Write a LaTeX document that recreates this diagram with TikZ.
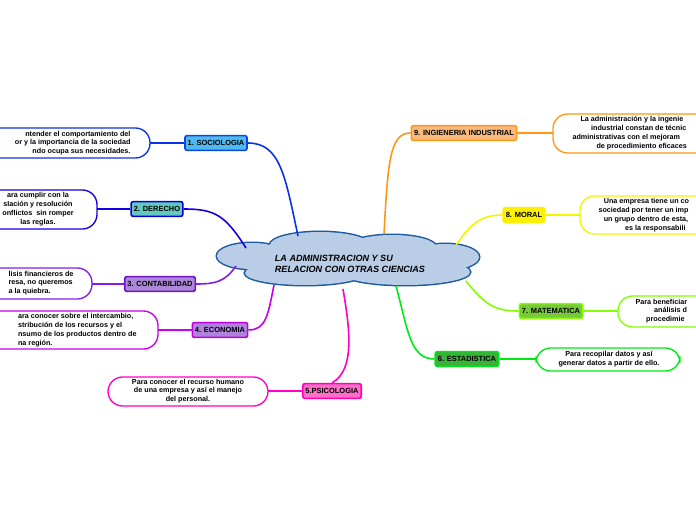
\documentclass[tikz,border=0pt]{standalone}
\usepackage{fontspec}
\setmainfont{Liberation Sans}
\tikzset{every picture/.style={line width=0.75pt}}
\tikzset{
  topic/.style={draw, line width=1.2pt, rounded corners=1.5pt, font=\fontsize{5.6}{6.4}\selectfont\bfseries, inner sep=2pt, minimum height=11pt},
  leaf/.style={draw, line width=1pt, rounded corners=11pt, fill=white},
  ltext/.style={font=\fontsize{5.4}{6.6}\selectfont\bfseries, inner sep=0pt},
  link/.style={line width=1.2pt}
}
\newcommand\puffs{%
  (348,261) ellipse [x radius=112, y radius=16]
  (252,256) ellipse [x radius=35, y radius=13]
  (320,245) ellipse [x radius=50, y radius=13]
  (392,247) ellipse [x radius=44, y radius=12]
  (305,273) ellipse [x radius=60, y radius=12]
  (405,272) ellipse [x radius=65, y radius=13]
  (445,257) ellipse [x radius=34, y radius=13]}
\begin{document}
\begin{tikzpicture}[x=0.75pt,y=0.75pt,yscale=-1,xscale=1]
	\useasboundingbox (0,0) rectangle (696,520);
	\clip (0,0) rectangle (696,520);

	% central cloud
	\draw [draw={rgb,255:red,30;green,90;blue,160}, line width=2.2pt] \puffs;
	\fill [fill={rgb,255:red,185;green,205;blue,230}] \puffs;
	\node (core) at (348,261) [minimum width=190pt, minimum height=40pt] {};
	\node (title) [font=\fontsize{6.8}{7.8}\selectfont\bfseries\itshape, align=left] at (350,264) {LA ADMINISTRACION Y SU\\RELACION CON OTRAS CIENCIAS};

	% left branches
	\node (socio) [topic, fill={rgb,255:red,80;green,185;blue,240}, draw={rgb,255:red,10;green,70;blue,230}] at (216,143) {1. SOCIOLOGIA};
	\draw [leaf, draw={rgb,255:red,10;green,50;blue,235}] (-40,128) rectangle (150,158);
	\node (socioT) [ltext, anchor=east, align=right] at (131,143) {ntender el comportamiento del\\or y la importancia de la sociedad\\ndo ocupa sus necesidades.};
	\coordinate (socioL) at (150,143);
	\draw [link, draw={rgb,255:red,10;green,50;blue,235}] (socio.west) -- (socioL);
	\draw [link, draw={rgb,255:red,10;green,50;blue,235}] (298,236) .. controls (285,175) and (280,143) .. (socio.east);

	\node (dere) [topic, fill={rgb,255:red,100;green,200;blue,190}, draw={rgb,255:red,0;green,0;blue,220}] at (157,209) {2. DERECHO};
	\draw [leaf, draw={rgb,255:red,20;green,0;blue,230}] (-40,190) rectangle (97,229);
	\node (dereT) [ltext, anchor=center, align=center] at (38,209) {ara cumplir con la\\sIación y resolución\\onflictos\ \ sin romper\\las reglas.};
	\coordinate (dereL) at (97,209);
	\draw [link, draw={rgb,255:red,20;green,0;blue,230}] (dere.west) -- (dereL);
	\draw [link, draw={rgb,255:red,20;green,0;blue,230}] (246,248) .. controls (225,215) and (215,209) .. (dere.east);

	\node (conta) [topic, fill={rgb,255:red,170;green,135;blue,215}, draw={rgb,255:red,110;green,20;blue,200}] at (160,284) {3. CONTABILIDAD};
	\draw [leaf, draw={rgb,255:red,130;green,30;blue,235}] (-40,268) rectangle (92,299);
	\node (contaT) [ltext, anchor=east, align=left] at (74,283) {lisis financieros de\\resa, no queremos\\a la quiebra.};
	\coordinate (contaL) at (92,284);
	\draw [link, draw={rgb,255:red,130;green,30;blue,235}] (conta.west) -- (contaL);
	\draw [link, draw={rgb,255:red,130;green,30;blue,235}] (236,266) .. controls (225,282) and (215,284) .. (conta.east);

	\node (econ) [topic, fill={rgb,255:red,175;green,130;blue,220}, draw={rgb,255:red,190;green,0;blue,220}] at (220,330) {4. ECONOMIA};
	\draw [leaf, draw={rgb,255:red,200;green,0;blue,235}] (-40,311) rectangle (158,349);
	\node (econT) [ltext, anchor=east, align=left] at (137,330) {ara conocer sobre el intercambio,\\stribución de los recursos y el\\nsumo de los productos dentro de\\na región.};
	\coordinate (econL) at (158,330);
	\draw [link, draw={rgb,255:red,200;green,0;blue,235}] (econ.west) -- (econL);
	\draw [link, draw={rgb,255:red,200;green,0;blue,235}] (274,285) .. controls (268,315) and (266,330) .. (econ.east);

	\node (psico) [topic, fill={rgb,255:red,255;green,110;blue,200}, draw={rgb,255:red,255;green,0;blue,190}] at (332,391) {5.PSICOLOGIA};
	\draw [leaf, draw={rgb,255:red,255;green,0;blue,200}] (108,377) rectangle (268,406);
	\node (psicoT) [ltext, align=center] at (188,391) {Para conocer el recurso humano\\de una empresa y así el manejo\\del personal.};
	\coordinate (psicoL) at (268,391);
	\draw [link, draw={rgb,255:red,255;green,0;blue,200}] (psico.west) -- (psicoL);
	\draw [link, draw={rgb,255:red,255;green,0;blue,200}] (343,289) .. controls (350,330) and (355,370) .. (psico.north);

	% right branches
	\node (esta) [topic, fill={rgb,255:red,60;green,175;blue,60}, draw={rgb,255:red,0;green,230;blue,20}] at (467,359) {6. ESTADISTICA};
	\draw [leaf, draw={rgb,255:red,0;green,235;blue,20}] (536,348) rectangle (680,371);
	\node (estaT) [ltext, align=center] at (609,359) {Para recopilar datos y así\\generar datos a partir de ello.};
	\coordinate (estaL) at (536,359);
	\draw [link, draw={rgb,255:red,0;green,235;blue,20}] (esta.east) -- (estaL);
	\draw [link, draw={rgb,255:red,0;green,235;blue,20}] (396,286) .. controls (408,330) and (410,359) .. (esta.west);

	\node (mate) [topic, fill={rgb,255:red,120;green,200;blue,60}, draw={rgb,255:red,130;green,255;blue,0}] at (551,311) {7. MATEMATICA};
	\draw [leaf, draw={rgb,255:red,130;green,255;blue,0}] (618,296) rectangle (760,327);
	\node (mateT) [ltext, anchor=west, align=left] at (635,311) {Para beneficiar\\\hspace*{14pt}análisis d\\\hspace*{8pt}procedimie};
	\coordinate (mateL) at (618,311);
	\draw [link, draw={rgb,255:red,130;green,255;blue,0}] (mate.east) -- (mateL);
	\draw [link, draw={rgb,255:red,130;green,255;blue,0}] (466,281) .. controls (485,305) and (495,311) .. (mate.west);

	\node (moral) [topic, fill={rgb,255:red,255;green,240;blue,0}, draw={rgb,255:red,255;green,240;blue,0}] at (524,215) {8. MORAL};
	\draw [leaf, draw={rgb,255:red,245;green,245;blue,0}] (580,196) rectangle (760,234);
	\node (moralT) [ltext, anchor=west, align=left] at (598,215) {\hspace*{4pt}Una empresa tiene un co\\sociedad por tener un imp\\\hspace*{4pt}un grupo dentro de esta,\\\hspace*{20pt}es la responsabili};
	\coordinate (moralL) at (580,215);
	\draw [link, draw={rgb,255:red,245;green,245;blue,0}] (moral.east) -- (moralL);
	\draw [link, draw={rgb,255:red,245;green,245;blue,0}] (456,245) .. controls (470,225) and (480,215) .. (moral.west);

	\node (ingen) [topic, fill={rgb,255:red,250;green,185;blue,125}, draw={rgb,255:red,255;green,150;blue,20}] at (464,133) {9. INGIENERIA INDUSTRIAL};
	\draw [leaf, draw={rgb,255:red,255;green,150;blue,20}] (553,114) rectangle (760,153);
	\node (ingenT) [ltext, anchor=west, align=left] at (572,133) {\hspace*{6pt}La administración y la ingenie\\\hspace*{14pt}industrial constan de técnic\\administrativas con el mejoram\\\hspace*{18pt}de procedimiento eficaces};
	\coordinate (ingenL) at (553,133);
	\draw [link, draw={rgb,255:red,255;green,150;blue,20}] (ingen.east) -- (ingenL);
	\draw [link, draw={rgb,255:red,255;green,150;blue,20}] (384,234) .. controls (388,160) and (390,133) .. (ingen.west);
\end{tikzpicture}
\end{document}
